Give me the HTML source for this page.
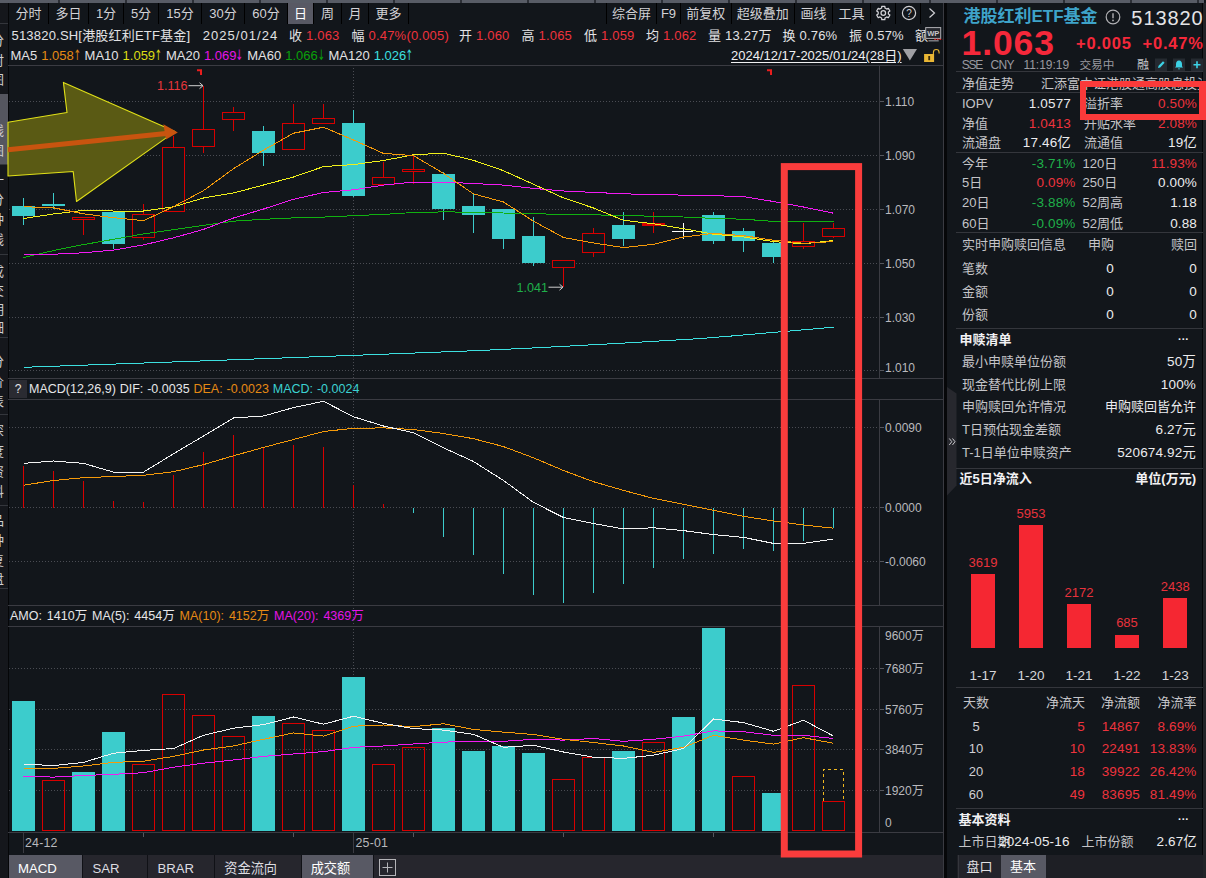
<!DOCTYPE html>
<html lang="zh-CN">
<head>
<meta charset="utf-8">
<title>513820 港股红利ETF基金</title>
<style>
*{box-sizing:border-box;margin:0;padding:0}
html,body{width:1206px;height:878px;overflow:hidden;background:#12161b}
body{font-family:"Liberation Sans","Noto Sans CJK SC",sans-serif;color:#d6d6d8;font-size:13px;position:relative}
.abs{position:absolute;white-space:nowrap}
svg text{font-family:"Liberation Sans","Noto Sans CJK SC",sans-serif}
.chart{position:absolute;left:0;top:0}
/* top strip */
.topstrip{position:absolute;left:0;top:0;width:1204px;height:3px;background:#585c66}
.topstrip i{position:absolute;top:0;width:2px;height:3px;background:#2c2f36}
/* sidebar */
.side{position:absolute;left:0;top:3px;width:9px;height:875px;background:#15171c;border-right:1px solid #050608;overflow:hidden}
.side .act{position:absolute;left:0;top:91px;width:8px;height:70px;background:#55565f}
.side span{position:absolute;left:-9px;width:13px;font-size:13px;line-height:20px;color:#cfcfd2}
.side b{position:absolute;left:0;width:8px;height:1px;background:#34363c}
/* toolbar */
.tb{position:absolute;top:3px;height:21px;line-height:21px;font-size:13px;color:#d2d2d6;text-align:center;border-right:1px solid #000}
.tb.l{border-right:none;border-left:1px solid #000}
.tb.on{background:#585964;color:#fff}
.r2{letter-spacing:.2px;top:26.5px;height:18px;line-height:18px;font-size:13px;color:#e2e2e4}
.r3{word-spacing:.4px;top:46.5px;height:18px;line-height:18px;font-size:13px;color:#e2e2e4}

.ar{font-family:"DejaVu Sans",sans-serif;font-size:14.5px;line-height:10px;display:inline-block;margin:0 -2.2px 0 -3.2px;transform:scaleX(.6);vertical-align:-.7px}
.hd{font-size:12.5px;color:#e6e6e8;height:18px;line-height:18px}
/* bottom tabs */
.btabs{position:absolute;left:9px;top:855px;width:936px;height:23px;background:#26262d}
.bt{position:absolute;top:855px;height:23px;line-height:27px;font-size:13.2px;color:#dcdce0;padding-left:9px;border-right:1px solid #101116}
.bt.on{background:#585964;color:#fff}
/* right panel */
.sep{position:absolute;left:943px;top:3px;width:3.5px;height:875px;background:#060709;border-left:1px solid #3a3b42}
.rp{position:absolute;left:946.5px;top:3px;width:259.5px;height:875px;background:#12161b;border-right:3px solid #222428}
.rp:after{content:'';position:absolute;right:0;top:0;width:1px;height:875px;background:#050608}
.hl{position:absolute;left:956px;width:247px;height:1px;background:#34363c}
.row{position:absolute;font-size:13px;height:18px;line-height:18px;white-space:nowrap;color:#c4c4c8}
.row.w,.w{color:#ececee}
.red,.row.red{color:#ee333d}.grn,.row.grn{color:#1fb04a}
.rt{text-align:right}
.num{font-size:13.5px;letter-spacing:.15px}
.bold{font-weight:bold;color:#f2f2f4}
</style>
</head>
<body>
<div class="topstrip"><i style="left:58px"></i><i style="left:125px"></i><i style="left:192px"></i><i style="left:259px"></i><i style="left:326px"></i><i style="left:393px"></i><i style="left:460px"></i><i style="left:527px"></i><i style="left:594px"></i><i style="left:661px"></i><i style="left:728px"></i><i style="left:795px"></i><i style="left:862px"></i><i style="left:929px"></i><i style="left:996px"></i><i style="left:1063px"></i><i style="left:1130px"></i><i style="left:1197px"></i></div>
<div class="side">
<div class="act"></div>
<b style="top:20px"></b>
<span style="top:28.0px">分</span>
<span style="top:47.5px">时</span>
<span style="top:67.0px">图</span>
<span style="top:98.5px">K</span>
<span style="top:118.0px">线</span>
<span style="top:137.5px">图</span>
<b style="top:161px"></b>
<span style="top:167.0px">一</span>
<span style="top:187.0px">分</span>
<span style="top:207.0px">钟</span>
<span style="top:227.0px">线</span>
<b style="top:251px"></b>
<span style="top:259.0px">成</span>
<span style="top:278.0px">交</span>
<span style="top:297.0px">明</span>
<span style="top:315.0px">细</span>
<b style="top:334px"></b>
<span style="top:349.0px">分</span>
<span style="top:369.0px">价</span>
<span style="top:389.0px">表</span>
<b style="top:411px"></b>
<span style="top:418.0px">深</span>
<span style="top:438.5px">度</span>
<span style="top:458.5px">资</span>
<span style="top:478.5px">料</span>
<b style="top:502px"></b>
<span style="top:508.0px">品</span>
<span style="top:528.0px">种</span>
<span style="top:548.0px">复</span>
<span style="top:566.0px">盘</span>
<b style="top:585px"></b>
</div>
<!-- toolbar tabs -->
<div class="tb abs" style="left:9px;width:40px">分时</div>
<div class="tb abs" style="left:49px;width:40px">多日</div>
<div class="tb abs" style="left:89px;width:35px">1分</div>
<div class="tb abs" style="left:124px;width:35px">5分</div>
<div class="tb abs" style="left:159px;width:43px">15分</div>
<div class="tb abs" style="left:202px;width:43px">30分</div>
<div class="tb abs" style="left:245px;width:43px">60分</div>
<div class="tb abs on" style="left:288px;width:26px">日</div>
<div class="tb abs" style="left:314px;width:28px">周</div>
<div class="tb abs" style="left:342px;width:27px">月</div>
<div class="tb abs" style="left:369px;width:40px">更多</div>

<div class="tb l abs" style="left:606px;width:50px">综合屏</div>
<div class="tb l abs" style="left:656px;width:24px">F9</div>
<div class="tb l abs" style="left:680px;width:50.5px">前复权</div>
<div class="tb l abs" style="left:730.5px;width:63.5px">超级叠加</div>
<div class="tb l abs" style="left:794px;width:38px">画线</div>
<div class="tb l abs" style="left:832px;width:38px">工具</div>
<div class="tb l abs" style="left:870px;width:25px"></div>
<div class="tb l abs" style="left:895px;width:25px"></div>
<div class="tb l abs" style="left:920px;width:24px"></div>
<svg class="abs" style="left:875px;top:5px" width="17" height="16" viewBox="0 0 17 16"><path d="M14.90 10.02 L13.35 12.71 L11.71 11.92 L9.99 12.92 L9.85 14.72 L6.75 14.72 L6.61 12.92 L4.89 11.92 L3.25 12.71 L1.70 10.02 L3.20 8.99 L3.20 7.01 L1.70 5.98 L3.25 3.29 L4.89 4.08 L6.61 3.08 L6.75 1.28 L9.85 1.28 L9.99 3.08 L11.71 4.08 L13.35 3.29 L14.90 5.98 L13.40 7.01 L13.40 8.99Z" fill="none" stroke="#d4d4d8" stroke-width="1.25" stroke-linejoin="round"/><circle cx="8.3" cy="8.0" r="2.3" fill="none" stroke="#d4d4d8" stroke-width="1.25"/></svg>
<svg class="abs" style="left:901px;top:5px" width="16" height="16" viewBox="0 0 16 16"><circle cx="8" cy="8" r="6.6" fill="none" stroke="#d0d0d4" stroke-width="1.2"/><text x="8" y="11.6" font-size="10" text-anchor="middle" fill="#d0d0d4">?</text></svg>
<svg class="abs" style="left:926px;top:5px" width="12" height="16" viewBox="0 0 12 16"><path d="M3.5 3.5 L8.5 8 L3.5 12.5" fill="none" stroke="#d0d0d4" stroke-width="1.2"/></svg>

<!-- row 2 -->
<div class="r2 abs" style="left:11.5px">513820.SH[港股红利ETF基金]</div>
<div class="r2 abs" style="left:202.7px;letter-spacing:1.05px">2025/01/24</div>
<div class="r2 abs" style="left:289px">收 <span class="red">1.063</span></div>
<div class="r2 abs" style="left:351.5px">幅 <span class="red">0.47%(0.005)</span></div>
<div class="r2 abs" style="left:459px">开 <span class="red">1.060</span></div>
<div class="r2 abs" style="left:521.5px">高 <span class="red">1.065</span></div>
<div class="r2 abs" style="left:584px">低 <span class="red">1.059</span></div>
<div class="r2 abs" style="left:646px">均 <span class="red">1.062</span></div>
<div class="r2 abs" style="left:708px">量 13.27万</div>
<div class="r2 abs" style="left:782.5px">换 0.76%</div>
<div class="r2 abs" style="left:849px">振 0.57%</div>
<div class="r2 abs" style="left:915px;width:14px;overflow:hidden">额</div>
<!-- WP icon -->
<svg class="abs" style="left:925px;top:26px" width="18" height="17" viewBox="0 0 18 17"><rect x="0.7" y="1.6" width="15" height="10.8" fill="#24262c" stroke="#b0b0b4" stroke-width="1"/><text x="8.3" y="10" font-size="7.6" font-weight="bold" text-anchor="middle" fill="#c4c4c8">WP</text><path d="M3.5 14.8h10.2" stroke="#8c8c92" stroke-width="1.3"/><path d="M9.3 13.3h8" stroke="#e01e1e" stroke-width="1.2" stroke-dasharray="1.6 1"/></svg>
<!-- row 3 -->
<div class="r3 abs" style="left:10.5px">MA5 <span style="color:#e68a14">1.058<span class="ar">↑</span></span> MA10 <span style="color:#dcdc14">1.059<span class="ar">↑</span></span> MA20 <span style="color:#e614e6">1.069<span class="ar">↓</span></span> MA60 <span style="color:#0aa00a">1.066<span class="ar">↓</span></span> MA120 <span style="color:#3ce0e0">1.026<span class="ar">↑</span></span></div>
<div class="r3 abs" style="left:731px;color:#f0f0f2;text-decoration:underline;text-underline-offset:2px">2024/12/17-2025/01/24(28日)</div>
<svg class="abs" style="left:902px;top:48px" width="16" height="14" viewBox="0 0 16 14"><polygon points="0.8,1 15,1 7.9,12.6" fill="#a0a0a4"/></svg>
<svg class="abs" style="left:922px;top:47px" width="20" height="17" viewBox="0 0 20 17"><path d="M11.4 7.2 V5.4 a2.85 2.85 0 0 1 5.7 0 V6.4" fill="none" stroke="#e6b432" stroke-width="1.1"/><rect x="2.1" y="7" width="10" height="8" fill="#eab735"/><rect x="6.3" y="9" width="1.8" height="4.2" fill="#3a2a08"/></svg>

<!-- panel headers -->
<div class="abs" style="left:9px;top:380px;width:18px;height:18px;background:#2a2b32;color:#e6e6e8;text-align:center;line-height:18px;font-size:12px">?</div>
<div class="hd abs" style="left:29px;top:380px;word-spacing:.4px">MACD(12,26,9) DIF: -0.0035 <span style="color:#e68a14">DEA: -0.0023</span> <span style="color:#3cd2d2">MACD: -0.0024</span></div>
<div class="hd abs" style="left:10px;top:607px;word-spacing:1.4px">AMO: 1410万 MA(5): 4454万 <span style="color:#e68a14">MA(10): 4152万</span> <span style="color:#e614e6">MA(20): 4369万</span></div>

<!-- bottom tabs -->
<div class="btabs"></div>
<div class="bt abs on" style="left:9px;width:74.4px">MACD</div>
<div class="bt abs" style="left:83.4px;width:65px">SAR</div>
<div class="bt abs" style="left:148.4px;width:66.9px">BRAR</div>
<div class="bt abs" style="left:215.3px;width:86.4px">资金流向</div>
<div class="bt abs on" style="left:301.7px;width:72.4px">成交额</div>
<svg class="abs" style="left:379px;top:859px" width="18" height="18" viewBox="0 0 18 18"><rect x="0.5" y="0.5" width="16" height="16" fill="none" stroke="#b4b4b8"/><path d="M8.5 3.5v10M3.5 8.5h10" stroke="#b4b4b8"/></svg>

<svg class="chart" width="948" height="878" viewBox="0 0 948 878" shape-rendering="auto">
<line x1="9" x2="880" y1="101.5" y2="101.5" stroke="#4a4c53" stroke-width="1" stroke-dasharray="1 2" shape-rendering="crispEdges"/>
<line x1="9" x2="880" y1="155.5" y2="155.5" stroke="#4a4c53" stroke-width="1" stroke-dasharray="1 2" shape-rendering="crispEdges"/>
<line x1="9" x2="880" y1="209.5" y2="209.5" stroke="#4a4c53" stroke-width="1" stroke-dasharray="1 2" shape-rendering="crispEdges"/>
<line x1="9" x2="880" y1="263.5" y2="263.5" stroke="#4a4c53" stroke-width="1" stroke-dasharray="1 2" shape-rendering="crispEdges"/>
<line x1="9" x2="880" y1="317.5" y2="317.5" stroke="#4a4c53" stroke-width="1" stroke-dasharray="1 2" shape-rendering="crispEdges"/>
<line x1="9" x2="880" y1="370.5" y2="370.5" stroke="#4a4c53" stroke-width="1" stroke-dasharray="1 2" shape-rendering="crispEdges"/>
<line x1="9" x2="880" y1="427.5" y2="427.5" stroke="#4a4c53" stroke-width="1" stroke-dasharray="1 2" shape-rendering="crispEdges"/>
<line x1="9" x2="880" y1="507.5" y2="507.5" stroke="#4a4c53" stroke-width="1" stroke-dasharray="1 2" shape-rendering="crispEdges"/>
<line x1="9" x2="880" y1="561.5" y2="561.5" stroke="#4a4c53" stroke-width="1" stroke-dasharray="1 2" shape-rendering="crispEdges"/>
<line x1="9" x2="880" y1="668.5" y2="668.5" stroke="#4a4c53" stroke-width="1" stroke-dasharray="1 2" shape-rendering="crispEdges"/>
<line x1="9" x2="880" y1="709.5" y2="709.5" stroke="#4a4c53" stroke-width="1" stroke-dasharray="1 2" shape-rendering="crispEdges"/>
<line x1="9" x2="880" y1="749.5" y2="749.5" stroke="#4a4c53" stroke-width="1" stroke-dasharray="1 2" shape-rendering="crispEdges"/>
<line x1="9" x2="880" y1="790.5" y2="790.5" stroke="#4a4c53" stroke-width="1" stroke-dasharray="1 2" shape-rendering="crispEdges"/>
<line x1="353.5" x2="353.5" y1="68" y2="831" stroke="#4a4c53" stroke-width="1" stroke-dasharray="1 2" shape-rendering="crispEdges"/>
<line x1="8" x2="944" y1="65.5" y2="65.5" stroke="#3a3b42" stroke-width="1"/>
<line x1="8" x2="944" y1="378.5" y2="378.5" stroke="#3a3b42" stroke-width="1"/>
<line x1="8" x2="944" y1="399.5" y2="399.5" stroke="#3a3b42" stroke-width="1"/>
<line x1="8" x2="944" y1="605.5" y2="605.5" stroke="#3a3b42" stroke-width="1"/>
<line x1="8" x2="944" y1="626.5" y2="626.5" stroke="#3a3b42" stroke-width="1"/>
<line x1="8" x2="944" y1="832.5" y2="832.5" stroke="#3a3b42" stroke-width="1"/>
<line x1="879.5" x2="879.5" y1="66" y2="378" stroke="#3a3b42"/>
<line x1="879.5" x2="879.5" y1="399" y2="605" stroke="#3a3b42"/>
<line x1="879.5" x2="879.5" y1="626" y2="832" stroke="#3a3b42"/>
<line x1="880" x2="884" y1="101.5" y2="101.5" stroke="#55575e"/>
<line x1="880" x2="884" y1="155.5" y2="155.5" stroke="#55575e"/>
<line x1="880" x2="884" y1="209.5" y2="209.5" stroke="#55575e"/>
<line x1="880" x2="884" y1="263.5" y2="263.5" stroke="#55575e"/>
<line x1="880" x2="884" y1="317.5" y2="317.5" stroke="#55575e"/>
<line x1="880" x2="884" y1="370.5" y2="370.5" stroke="#55575e"/>
<line x1="880" x2="884" y1="427.5" y2="427.5" stroke="#55575e"/>
<line x1="880" x2="884" y1="507.5" y2="507.5" stroke="#55575e"/>
<line x1="880" x2="884" y1="561.5" y2="561.5" stroke="#55575e"/>
<line x1="880" x2="884" y1="668.5" y2="668.5" stroke="#55575e"/>
<line x1="880" x2="884" y1="709.5" y2="709.5" stroke="#55575e"/>
<line x1="880" x2="884" y1="749.5" y2="749.5" stroke="#55575e"/>
<line x1="880" x2="884" y1="790.5" y2="790.5" stroke="#55575e"/>
<polygon points="8,122.2 67,112.5 63.4,82.4 175,131.6 76.5,201.5 73.2,171.5 8,176" fill="#5a5a14" stroke="#e0e018" stroke-width="1.1" stroke-linejoin="round"/>
<line x1="8" y1="149.8" x2="166" y2="133.6" stroke="#c8540f" stroke-width="5"/>
<polygon points="163.4,124.3 177.8,132.4 166,139.4" fill="#c8540f"/>
<line x1="23.5" x2="23.5" y1="198.0" y2="224.8" stroke="#3ccccc" stroke-width="1" shape-rendering="crispEdges"/>
<rect x="12.0" y="206.0" width="23" height="10.0" fill="#3ccccc" shape-rendering="crispEdges"/>
<line x1="53.5" x2="53.5" y1="193.0" y2="209.0" stroke="#3ccccc" stroke-width="1" shape-rendering="crispEdges"/>
<rect x="42.0" y="204.0" width="23" height="2.0" fill="#3ccccc" shape-rendering="crispEdges"/>
<line x1="83.5" x2="83.5" y1="217.0" y2="217.0" stroke="#d80000" stroke-width="1" shape-rendering="crispEdges"/>
<line x1="83.5" x2="83.5" y1="219.3" y2="235.4" stroke="#d80000" stroke-width="1" shape-rendering="crispEdges"/>
<rect x="72.5" y="217.5" width="22" height="2.0" fill="#12161b" stroke="#d80000" stroke-width="1" shape-rendering="crispEdges"/>
<line x1="113.5" x2="113.5" y1="212.0" y2="248.5" stroke="#3ccccc" stroke-width="1" shape-rendering="crispEdges"/>
<rect x="102.0" y="212.0" width="23" height="32.0" fill="#3ccccc" shape-rendering="crispEdges"/>
<line x1="143.5" x2="143.5" y1="204.0" y2="213.8" stroke="#d80000" stroke-width="1" shape-rendering="crispEdges"/>
<line x1="143.5" x2="143.5" y1="237.0" y2="240.3" stroke="#d80000" stroke-width="1" shape-rendering="crispEdges"/>
<rect x="132.5" y="214.5" width="22" height="23.0" fill="#12161b" stroke="#d80000" stroke-width="1" shape-rendering="crispEdges"/>
<line x1="173.5" x2="173.5" y1="136.0" y2="147.4" stroke="#d80000" stroke-width="1" shape-rendering="crispEdges"/>
<line x1="173.5" x2="173.5" y1="211.0" y2="211.0" stroke="#d80000" stroke-width="1" shape-rendering="crispEdges"/>
<rect x="162.5" y="147.5" width="22" height="64.0" fill="#12161b" stroke="#d80000" stroke-width="1" shape-rendering="crispEdges"/>
<line x1="203.5" x2="203.5" y1="85.7" y2="129.4" stroke="#d80000" stroke-width="1" shape-rendering="crispEdges"/>
<line x1="203.5" x2="203.5" y1="146.6" y2="152.9" stroke="#d80000" stroke-width="1" shape-rendering="crispEdges"/>
<rect x="192.5" y="129.5" width="22" height="17.0" fill="#12161b" stroke="#d80000" stroke-width="1" shape-rendering="crispEdges"/>
<line x1="233.5" x2="233.5" y1="107.0" y2="112.2" stroke="#d80000" stroke-width="1" shape-rendering="crispEdges"/>
<line x1="233.5" x2="233.5" y1="119.6" y2="130.5" stroke="#d80000" stroke-width="1" shape-rendering="crispEdges"/>
<rect x="222.5" y="112.5" width="22" height="7.0" fill="#12161b" stroke="#d80000" stroke-width="1" shape-rendering="crispEdges"/>
<line x1="263.5" x2="263.5" y1="125.6" y2="166.0" stroke="#3ccccc" stroke-width="1" shape-rendering="crispEdges"/>
<rect x="252.0" y="131.0" width="23" height="22.0" fill="#3ccccc" shape-rendering="crispEdges"/>
<line x1="293.5" x2="293.5" y1="103.7" y2="123.1" stroke="#d80000" stroke-width="1" shape-rendering="crispEdges"/>
<line x1="293.5" x2="293.5" y1="149.6" y2="149.6" stroke="#d80000" stroke-width="1" shape-rendering="crispEdges"/>
<rect x="282.5" y="123.5" width="22" height="26.0" fill="#12161b" stroke="#d80000" stroke-width="1" shape-rendering="crispEdges"/>
<line x1="323.5" x2="323.5" y1="103.7" y2="117.9" stroke="#d80000" stroke-width="1" shape-rendering="crispEdges"/>
<line x1="323.5" x2="323.5" y1="122.8" y2="122.8" stroke="#d80000" stroke-width="1" shape-rendering="crispEdges"/>
<rect x="312.5" y="118.5" width="22" height="5.0" fill="#12161b" stroke="#d80000" stroke-width="1" shape-rendering="crispEdges"/>
<line x1="353.5" x2="353.5" y1="110.0" y2="197.4" stroke="#3ccccc" stroke-width="1" shape-rendering="crispEdges"/>
<rect x="342.0" y="123.0" width="23" height="73.0" fill="#3ccccc" shape-rendering="crispEdges"/>
<line x1="383.5" x2="383.5" y1="162.2" y2="177.2" stroke="#d80000" stroke-width="1" shape-rendering="crispEdges"/>
<line x1="383.5" x2="383.5" y1="184.6" y2="184.6" stroke="#d80000" stroke-width="1" shape-rendering="crispEdges"/>
<rect x="372.5" y="177.5" width="22" height="7.0" fill="#12161b" stroke="#d80000" stroke-width="1" shape-rendering="crispEdges"/>
<line x1="413.5" x2="413.5" y1="154.3" y2="169.3" stroke="#d80000" stroke-width="1" shape-rendering="crispEdges"/>
<line x1="413.5" x2="413.5" y1="171.5" y2="184.3" stroke="#d80000" stroke-width="1" shape-rendering="crispEdges"/>
<rect x="402.5" y="169.5" width="22" height="2.0" fill="#12161b" stroke="#d80000" stroke-width="1" shape-rendering="crispEdges"/>
<line x1="443.5" x2="443.5" y1="172.0" y2="219.8" stroke="#3ccccc" stroke-width="1" shape-rendering="crispEdges"/>
<rect x="432.0" y="174.0" width="23" height="35.0" fill="#3ccccc" shape-rendering="crispEdges"/>
<line x1="473.5" x2="473.5" y1="193.3" y2="233.0" stroke="#3ccccc" stroke-width="1" shape-rendering="crispEdges"/>
<rect x="462.0" y="206.0" width="23" height="9.0" fill="#3ccccc" shape-rendering="crispEdges"/>
<line x1="503.5" x2="503.5" y1="208.9" y2="248.5" stroke="#3ccccc" stroke-width="1" shape-rendering="crispEdges"/>
<rect x="492.0" y="209.0" width="23" height="30.0" fill="#3ccccc" shape-rendering="crispEdges"/>
<line x1="533.5" x2="533.5" y1="217.1" y2="265.5" stroke="#3ccccc" stroke-width="1" shape-rendering="crispEdges"/>
<rect x="522.0" y="236.0" width="23" height="27.0" fill="#3ccccc" shape-rendering="crispEdges"/>
<line x1="563.5" x2="563.5" y1="260.2" y2="260.2" stroke="#d80000" stroke-width="1" shape-rendering="crispEdges"/>
<line x1="563.5" x2="563.5" y1="267.5" y2="287.2" stroke="#d80000" stroke-width="1" shape-rendering="crispEdges"/>
<rect x="552.5" y="260.5" width="22" height="7.0" fill="#12161b" stroke="#d80000" stroke-width="1" shape-rendering="crispEdges"/>
<line x1="593.5" x2="593.5" y1="228.2" y2="233.1" stroke="#d80000" stroke-width="1" shape-rendering="crispEdges"/>
<line x1="593.5" x2="593.5" y1="251.7" y2="257.4" stroke="#d80000" stroke-width="1" shape-rendering="crispEdges"/>
<rect x="582.5" y="233.5" width="22" height="19.0" fill="#12161b" stroke="#d80000" stroke-width="1" shape-rendering="crispEdges"/>
<line x1="623.5" x2="623.5" y1="212.3" y2="246.2" stroke="#3ccccc" stroke-width="1" shape-rendering="crispEdges"/>
<rect x="612.0" y="225.0" width="23" height="14.0" fill="#3ccccc" shape-rendering="crispEdges"/>
<line x1="653.5" x2="653.5" y1="212.3" y2="223.3" stroke="#d80000" stroke-width="1" shape-rendering="crispEdges"/>
<line x1="653.5" x2="653.5" y1="225.0" y2="232.6" stroke="#d80000" stroke-width="1" shape-rendering="crispEdges"/>
<rect x="642.5" y="223.5" width="22" height="2.0" fill="#d80000" stroke="#d80000" stroke-width="1" shape-rendering="crispEdges"/>
<line x1="683.5" x2="683.5" y1="223.3" y2="238.9" stroke="#fff" stroke-width="1" shape-rendering="crispEdges"/>
<line x1="672.0" x2="693.0" y1="231.5" y2="231.5" stroke="#fff" stroke-width="1" shape-rendering="crispEdges"/>
<line x1="713.5" x2="713.5" y1="212.0" y2="243.8" stroke="#3ccccc" stroke-width="1" shape-rendering="crispEdges"/>
<rect x="702.0" y="215.0" width="23" height="26.0" fill="#3ccccc" shape-rendering="crispEdges"/>
<line x1="743.5" x2="743.5" y1="228.0" y2="252.0" stroke="#3ccccc" stroke-width="1" shape-rendering="crispEdges"/>
<rect x="732.0" y="231.0" width="23" height="10.0" fill="#3ccccc" shape-rendering="crispEdges"/>
<line x1="773.5" x2="773.5" y1="240.5" y2="263.0" stroke="#3ccccc" stroke-width="1" shape-rendering="crispEdges"/>
<rect x="762.0" y="243.0" width="23" height="14.0" fill="#3ccccc" shape-rendering="crispEdges"/>
<line x1="803.5" x2="803.5" y1="222.8" y2="241.1" stroke="#d80000" stroke-width="1" shape-rendering="crispEdges"/>
<line x1="803.5" x2="803.5" y1="246.0" y2="248.5" stroke="#d80000" stroke-width="1" shape-rendering="crispEdges"/>
<rect x="792.5" y="241.5" width="22" height="5.0" fill="#12161b" stroke="#d80000" stroke-width="1" shape-rendering="crispEdges"/>
<line x1="833.5" x2="833.5" y1="222.8" y2="228.0" stroke="#d80000" stroke-width="1" shape-rendering="crispEdges"/>
<line x1="833.5" x2="833.5" y1="235.6" y2="238.4" stroke="#d80000" stroke-width="1" shape-rendering="crispEdges"/>
<rect x="822.5" y="228.5" width="22" height="8.0" fill="#12161b" stroke="#d80000" stroke-width="1" shape-rendering="crispEdges"/>
<polyline points="23.5,257.5 53.5,250.6 83.5,244.6 113.5,239.3 143.5,233.9 173.5,229.7 203.5,225.3 233.5,221.2 263.5,219.3 293.5,217.9 323.5,217.1 353.5,215.7 383.5,214.4 413.5,212.5 443.5,211.9 473.5,212.2 503.5,213.0 533.5,213.8 563.5,214.3 593.5,214.8 623.5,215.6 653.5,216.2 683.5,217.0 713.5,218.4 743.5,219.2 773.5,221.4 803.5,221.4 833.5,221.4" fill="none" stroke="#10b010" stroke-width="1" shape-rendering="crispEdges"/>
<polyline points="23.5,254.2 53.5,254.2 83.5,252.8 113.5,250.1 143.5,244.9 173.5,237.8 203.5,229.4 233.5,218.0 263.5,209.0 293.5,199.3 323.5,192.5 353.5,189.8 383.5,185.1 413.5,182.1 443.5,182.1 473.5,183.5 503.5,185.1 533.5,188.4 563.5,191.0 593.5,192.4 623.5,193.8 653.5,194.6 683.5,195.1 713.5,195.7 743.5,196.6 773.5,201.5 803.5,207.0 833.5,213.2" fill="none" stroke="#f21af2" stroke-width="1" shape-rendering="crispEdges"/>
<polyline points="23.5,218.5 53.5,214.0 83.5,210.3 113.5,211.0 143.5,211.0 173.5,206.8 203.5,198.0 233.5,193.0 263.5,185.0 293.5,177.0 323.5,166.6 353.5,164.6 383.5,160.5 413.5,154.8 443.5,153.2 473.5,160.3 503.5,170.7 533.5,184.3 563.5,197.9 593.5,208.0 623.5,220.3 653.5,223.8 683.5,228.7 713.5,234.2 743.5,237.0 773.5,241.6 803.5,243.8 833.5,240.5" fill="none" stroke="#f0f01a" stroke-width="1" shape-rendering="crispEdges"/>
<polyline points="23.5,206.7 53.5,207.8 83.5,213.8 113.5,217.7 143.5,220.7 173.5,206.7 203.5,190.6 233.5,168.7 263.5,150.2 293.5,133.2 323.5,127.2 353.5,140.0 383.5,153.4 413.5,155.6 443.5,173.4 473.5,193.9 503.5,202.0 533.5,221.2 563.5,237.5 593.5,243.0 623.5,247.6 653.5,244.3 683.5,237.0 713.5,233.4 743.5,235.6 773.5,240.3 803.5,243.3 833.5,241.6" fill="none" stroke="#f59a0a" stroke-width="1" shape-rendering="crispEdges"/>
<polyline points="23.5,367.3 200.0,361.0 350.0,355.5 480.0,350.5 540.0,347.6 620.0,343.3 700.0,338.6 740.0,335.3 833.5,327.2" fill="none" stroke="#3ce0e0" stroke-width="1" shape-rendering="crispEdges"/>
<text x="157" y="90.2" font-size="12.6" fill="#e8363c">1.116</text>
<path d="M188.5 85.7 H203 M199.5 82.7 L203 85.7 L199.5 88.7" stroke="#cfcfcf" fill="none" stroke-width="1"/>
<path d="M197 70.3 H201 V75" stroke="#e81e1e" fill="none" stroke-width="2"/>
<path d="M767 70.3 H771 V75" stroke="#e81e1e" fill="none" stroke-width="2"/>
<text x="516.5" y="291.7" font-size="12.6" fill="#1fb04a">1.041</text>
<path d="M548.5 287.2 H563 M559.5 284.2 L563 287.2 L559.5 290.2" stroke="#cfcfcf" fill="none" stroke-width="1"/>
<text x="885" y="105.8" font-size="12" fill="#b9b9bd">1.110</text>
<text x="885" y="159.8" font-size="12" fill="#b9b9bd">1.090</text>
<text x="885" y="213.8" font-size="12" fill="#b9b9bd">1.070</text>
<text x="885" y="267.8" font-size="12" fill="#b9b9bd">1.050</text>
<text x="885" y="321.8" font-size="12" fill="#b9b9bd">1.030</text>
<text x="885" y="372.3" font-size="12" fill="#b9b9bd">1.010</text>
<text x="885" y="431.8" font-size="12" fill="#b9b9bd">0.0090</text>
<text x="885" y="511.8" font-size="12" fill="#b9b9bd">0.0000</text>
<text x="885" y="565.8" font-size="12" fill="#b9b9bd">-0.0060</text>
<text x="885" y="639.8" font-size="12" fill="#b9b9bd">9600万</text>
<text x="885" y="672.8" font-size="12" fill="#b9b9bd">7680万</text>
<text x="885" y="713.8" font-size="12" fill="#b9b9bd">5760万</text>
<text x="885" y="753.8" font-size="12" fill="#b9b9bd">3840万</text>
<text x="885" y="794.8" font-size="12" fill="#b9b9bd">1920万</text>
<text x="885" y="827.3" font-size="12" fill="#b9b9bd">0</text>
<line x1="23.5" x2="23.5" y1="507.5" y2="465.7" stroke="#d80000" stroke-width="1" shape-rendering="crispEdges"/>
<line x1="53.5" x2="53.5" y1="507.5" y2="470.9" stroke="#d80000" stroke-width="1" shape-rendering="crispEdges"/>
<line x1="83.5" x2="83.5" y1="507.5" y2="480.9" stroke="#d80000" stroke-width="1" shape-rendering="crispEdges"/>
<line x1="113.5" x2="113.5" y1="507.5" y2="501.2" stroke="#d80000" stroke-width="1" shape-rendering="crispEdges"/>
<line x1="143.5" x2="143.5" y1="507.5" y2="502.4" stroke="#d80000" stroke-width="1" shape-rendering="crispEdges"/>
<line x1="173.5" x2="173.5" y1="507.5" y2="474.5" stroke="#d80000" stroke-width="1" shape-rendering="crispEdges"/>
<line x1="203.5" x2="203.5" y1="507.5" y2="451.8" stroke="#d80000" stroke-width="1" shape-rendering="crispEdges"/>
<line x1="233.5" x2="233.5" y1="507.5" y2="434.7" stroke="#d80000" stroke-width="1" shape-rendering="crispEdges"/>
<line x1="263.5" x2="263.5" y1="507.5" y2="446.6" stroke="#d80000" stroke-width="1" shape-rendering="crispEdges"/>
<line x1="293.5" x2="293.5" y1="507.5" y2="444.7" stroke="#d80000" stroke-width="1" shape-rendering="crispEdges"/>
<line x1="323.5" x2="323.5" y1="507.5" y2="446.6" stroke="#d80000" stroke-width="1" shape-rendering="crispEdges"/>
<line x1="353.5" x2="353.5" y1="507.5" y2="484.5" stroke="#d80000" stroke-width="1" shape-rendering="crispEdges"/>
<line x1="383.5" x2="383.5" y1="507.5" y2="503.6" stroke="#d80000" stroke-width="1" shape-rendering="crispEdges"/>
<line x1="413.5" x2="413.5" y1="507.5" y2="512.7" stroke="#3ccccc" stroke-width="1" shape-rendering="crispEdges"/>
<line x1="443.5" x2="443.5" y1="507.5" y2="537.4" stroke="#3ccccc" stroke-width="1" shape-rendering="crispEdges"/>
<line x1="473.5" x2="473.5" y1="507.5" y2="554.9" stroke="#3ccccc" stroke-width="1" shape-rendering="crispEdges"/>
<line x1="503.5" x2="503.5" y1="507.5" y2="574.0" stroke="#3ccccc" stroke-width="1" shape-rendering="crispEdges"/>
<line x1="533.5" x2="533.5" y1="507.5" y2="595.1" stroke="#3ccccc" stroke-width="1" shape-rendering="crispEdges"/>
<line x1="563.5" x2="563.5" y1="507.5" y2="602.7" stroke="#3ccccc" stroke-width="1" shape-rendering="crispEdges"/>
<line x1="593.5" x2="593.5" y1="507.5" y2="592.7" stroke="#3ccccc" stroke-width="1" shape-rendering="crispEdges"/>
<line x1="623.5" x2="623.5" y1="507.5" y2="583.6" stroke="#3ccccc" stroke-width="1" shape-rendering="crispEdges"/>
<line x1="653.5" x2="653.5" y1="507.5" y2="567.6" stroke="#3ccccc" stroke-width="1" shape-rendering="crispEdges"/>
<line x1="683.5" x2="683.5" y1="507.5" y2="558.9" stroke="#3ccccc" stroke-width="1" shape-rendering="crispEdges"/>
<line x1="713.5" x2="713.5" y1="507.5" y2="554.1" stroke="#3ccccc" stroke-width="1" shape-rendering="crispEdges"/>
<line x1="743.5" x2="743.5" y1="507.5" y2="549.3" stroke="#3ccccc" stroke-width="1" shape-rendering="crispEdges"/>
<line x1="773.5" x2="773.5" y1="507.5" y2="550.5" stroke="#3ccccc" stroke-width="1" shape-rendering="crispEdges"/>
<line x1="803.5" x2="803.5" y1="507.5" y2="541.4" stroke="#3ccccc" stroke-width="1" shape-rendering="crispEdges"/>
<line x1="833.5" x2="833.5" y1="507.5" y2="528.2" stroke="#3ccccc" stroke-width="1" shape-rendering="crispEdges"/>
<polyline points="23.5,485.2 53.5,480.5 83.5,477.7 113.5,476.5 143.5,475.3 173.5,471.7 203.5,464.6 233.5,455.8 263.5,447.4 293.5,439.5 323.5,431.5 353.5,428.3 383.5,427.9 413.5,429.5 443.5,433.5 473.5,438.7 503.5,446.6 533.5,457.8 563.5,470.5 593.5,481.7 623.5,490.4 653.5,498.4 683.5,504.4 713.5,510.3 743.5,516.3 773.5,521.0 803.5,525.0 833.5,528.2" fill="none" stroke="#f59a0a" stroke-width="1" shape-rendering="crispEdges"/>
<polyline points="23.5,463.4 53.5,461.0 83.5,463.4 113.5,472.1 143.5,472.1 173.5,453.8 203.5,436.0 233.5,418.0 263.5,416.0 293.5,407.6 323.5,401.3 353.5,416.8 383.5,426.0 413.5,432.7 443.5,447.8 473.5,461.5 503.5,480.5 533.5,502.4 563.5,517.5 593.5,523.5 623.5,529.0 653.5,527.8 683.5,530.6 713.5,534.6 743.5,537.4 773.5,543.4 803.5,543.4 833.5,539.0" fill="none" stroke="#f2f2f2" stroke-width="1" shape-rendering="crispEdges"/>
<rect x="12.0" y="701.0" width="23" height="130.0" fill="#3ccccc" shape-rendering="crispEdges"/>
<rect x="42.5" y="780.5" width="22" height="50.0" fill="none" stroke="#d80000" stroke-width="1" shape-rendering="crispEdges"/>
<rect x="72.0" y="772.0" width="23" height="59.0" fill="#3ccccc" shape-rendering="crispEdges"/>
<rect x="102.0" y="732.0" width="23" height="99.0" fill="#3ccccc" shape-rendering="crispEdges"/>
<rect x="132.5" y="764.5" width="22" height="66.0" fill="none" stroke="#d80000" stroke-width="1" shape-rendering="crispEdges"/>
<rect x="162.5" y="694.5" width="22" height="136.0" fill="none" stroke="#d80000" stroke-width="1" shape-rendering="crispEdges"/>
<rect x="192.5" y="715.5" width="22" height="115.0" fill="none" stroke="#d80000" stroke-width="1" shape-rendering="crispEdges"/>
<rect x="222.5" y="736.5" width="22" height="94.0" fill="none" stroke="#d80000" stroke-width="1" shape-rendering="crispEdges"/>
<rect x="252.0" y="716.0" width="23" height="115.0" fill="#3ccccc" shape-rendering="crispEdges"/>
<rect x="282.5" y="723.5" width="22" height="107.0" fill="none" stroke="#d80000" stroke-width="1" shape-rendering="crispEdges"/>
<rect x="312.5" y="730.5" width="22" height="100.0" fill="none" stroke="#d80000" stroke-width="1" shape-rendering="crispEdges"/>
<rect x="342.0" y="677.0" width="23" height="154.0" fill="#3ccccc" shape-rendering="crispEdges"/>
<rect x="372.5" y="764.5" width="22" height="66.0" fill="none" stroke="#d80000" stroke-width="1" shape-rendering="crispEdges"/>
<rect x="402.5" y="747.5" width="22" height="83.0" fill="none" stroke="#d80000" stroke-width="1" shape-rendering="crispEdges"/>
<rect x="432.0" y="728.0" width="23" height="103.0" fill="#3ccccc" shape-rendering="crispEdges"/>
<rect x="462.0" y="751.0" width="23" height="80.0" fill="#3ccccc" shape-rendering="crispEdges"/>
<rect x="492.0" y="746.0" width="23" height="85.0" fill="#3ccccc" shape-rendering="crispEdges"/>
<rect x="522.0" y="753.0" width="23" height="78.0" fill="#3ccccc" shape-rendering="crispEdges"/>
<rect x="552.5" y="779.5" width="22" height="51.0" fill="none" stroke="#d80000" stroke-width="1" shape-rendering="crispEdges"/>
<rect x="582.5" y="757.5" width="22" height="73.0" fill="none" stroke="#d80000" stroke-width="1" shape-rendering="crispEdges"/>
<rect x="612.0" y="751.0" width="23" height="80.0" fill="#3ccccc" shape-rendering="crispEdges"/>
<rect x="642.5" y="742.5" width="22" height="88.0" fill="none" stroke="#d80000" stroke-width="1" shape-rendering="crispEdges"/>
<rect x="672.0" y="717.0" width="23" height="114.0" fill="#3ccccc" shape-rendering="crispEdges"/>
<rect x="702.0" y="628.0" width="23" height="203.0" fill="#3ccccc" shape-rendering="crispEdges"/>
<rect x="732.5" y="776.5" width="22" height="54.0" fill="none" stroke="#d80000" stroke-width="1" shape-rendering="crispEdges"/>
<rect x="762.0" y="793.0" width="23" height="38.0" fill="#3ccccc" shape-rendering="crispEdges"/>
<rect x="792.5" y="685.5" width="22" height="145.0" fill="none" stroke="#d80000" stroke-width="1" shape-rendering="crispEdges"/>
<rect x="822.5" y="801.5" width="22" height="29.0" fill="none" stroke="#d80000" stroke-width="1" shape-rendering="crispEdges"/>
<path d="M823.5 801 V769.5 H843.5 V801" fill="none" stroke="#f0b81e" stroke-width="1" stroke-dasharray="3 3" shape-rendering="crispEdges"/>
<polyline points="23.5,776.3 53.5,777.1 83.5,775.5 113.5,774.3 143.5,772.7 173.5,767.2 203.5,763.2 233.5,760.0 263.5,756.4 293.5,754.0 323.5,751.6 353.5,747.3 383.5,746.0 413.5,744.0 443.5,742.1 473.5,741.5 503.5,741.3 533.5,739.3 563.5,740.1 593.5,738.5 623.5,741.3 653.5,739.3 683.5,736.1 713.5,730.9 743.5,731.7 773.5,735.3 803.5,735.3 833.5,738.5" fill="none" stroke="#f21af2" stroke-width="1" shape-rendering="crispEdges"/>
<polyline points="23.5,768.4 53.5,768.4 83.5,766.0 113.5,762.4 143.5,761.2 173.5,756.4 203.5,750.0 233.5,746.0 263.5,739.3 293.5,732.9 323.5,736.1 353.5,726.2 383.5,725.0 413.5,726.6 443.5,723.8 473.5,729.4 503.5,732.1 533.5,734.5 563.5,739.3 593.5,742.5 623.5,746.0 653.5,752.4 683.5,747.3 713.5,735.3 743.5,740.1 773.5,744.1 803.5,737.7 833.5,743.3" fill="none" stroke="#f59a0a" stroke-width="1" shape-rendering="crispEdges"/>
<polyline points="23.5,764.0 53.5,765.6 83.5,762.4 113.5,753.2 143.5,750.4 173.5,748.5 203.5,735.3 233.5,728.2 263.5,724.6 293.5,717.0 323.5,724.2 353.5,716.2 383.5,723.4 413.5,728.6 443.5,730.1 473.5,734.3 503.5,747.3 533.5,745.3 563.5,752.0 593.5,757.2 623.5,758.4 653.5,755.2 683.5,748.5 713.5,719.0 743.5,722.6 773.5,731.3 803.5,720.2 833.5,736.1" fill="none" stroke="#f2f2f2" stroke-width="1" shape-rendering="crispEdges"/>
<line x1="23.5" x2="23.5" y1="832" y2="853" stroke="#3a3b42"/>
<line x1="353.5" x2="353.5" y1="832" y2="853" stroke="#3a3b42"/>
<line x1="143.5" x2="143.5" y1="833" y2="837" stroke="#55575e"/>
<line x1="293.5" x2="293.5" y1="833" y2="837" stroke="#55575e"/>
<line x1="413.5" x2="413.5" y1="833" y2="837" stroke="#55575e"/>
<line x1="563.5" x2="563.5" y1="833" y2="837" stroke="#55575e"/>
<line x1="713.5" x2="713.5" y1="833" y2="837" stroke="#55575e"/>
<text x="25" y="847" font-size="12.4" letter-spacing=".2" fill="#b9b9bd">24-12</text>
<text x="355.5" y="847" font-size="12.4" letter-spacing=".2" fill="#b9b9bd">25-01</text>
<rect x="784.3" y="166.6" width="74.3" height="687.4" fill="none" stroke="#fa3c3c" stroke-width="7"/>
</svg>
<div class="sep"></div><div class="rp"></div>
<svg class="abs" style="left:946.5px;top:387.3px" width="10" height="109" viewBox="0 0 10 109"><polygon points="0,0 9.5,6.5 9.5,98.5 0,108.5" fill="#27282e"/><path d="M2.3 51.5 L4.8 54.7 L2.3 57.9 M5.5 51.5 L8 54.7 L5.5 57.9" fill="none" stroke="#c8c8cc" stroke-width="1"/></svg>
<div class="abs" style="left:963.5px;top:6px;font-size:17px;line-height:22px;font-weight:bold;color:#3ea3c9">港股红利ETF基金</div>
<svg class="abs" style="left:1105px;top:9px" width="16" height="16" viewBox="0 0 16 16"><circle cx="8" cy="8" r="6.8" fill="none" stroke="#b0b0b4" stroke-width="1.2"/><path d="M8 4.2v5" stroke="#b0b0b4" stroke-width="1.4"/><circle cx="8" cy="11.4" r=".9" fill="#b0b0b4"/></svg>
<div class="abs" id="code" style="right:2.5px;top:5px;font-size:20px;line-height:26px;color:#e4e4e6;letter-spacing:.9px">513820</div>
<div class="abs" id="big" style="left:961.5px;top:23px;font-size:35.5px;line-height:40px;font-weight:bold;color:#f5283a;letter-spacing:.9px">1.063</div>
<div class="abs" id="chg1" style="left:1076px;top:32.5px;font-size:16.5px;line-height:20px;font-weight:bold;color:#f5283a;letter-spacing:.8px">+0.005</div>
<div class="abs" id="chg2" style="left:1142.5px;top:32.5px;font-size:16.5px;line-height:20px;font-weight:bold;color:#f5283a;letter-spacing:.8px">+0.47%</div>
<div class="abs" style="left:961.8px;top:57px;font-size:12px;line-height:16px;color:#9a9aa0;letter-spacing:-1.3px">SSE</div>
<div class="abs" style="left:990.5px;top:57px;font-size:12px;line-height:16px;color:#9a9aa0;letter-spacing:-.7px">CNY</div>
<div class="abs" style="left:1023.4px;top:57px;font-size:12px;line-height:16px;color:#9a9aa0">11:19:19</div>
<div class="abs" style="left:1079.4px;top:57px;font-size:11.7px;line-height:16px;color:#9a9aa0">交易中</div>
<div class="abs" style="left:1137px;top:57px;font-size:12px;line-height:16px;color:#c8c8cc">融</div>
<svg class="abs" style="left:1155px;top:58px" width="48" height="14" viewBox="0 0 48 14"><rect x="0" y="0.5" width="12" height="12.5" fill="#252a31"/><path d="M3 10 L3.6 7.8 L8 3.2 L9.6 4.8 L5.2 9.4 Z" fill="#3cd2e6"/><rect x="18" y="0.5" width="12" height="12.5" fill="#252a31"/><path d="M24 2.6 c-2.2 0 -3 1.8 -3 3.6 v2 l-1 1.4 h8 l-1 -1.4 v-2 c0 -1.8 -.8 -3.6 -3 -3.6z M23 10.4 h2 v.8 h-2z" fill="#3cd2e6"/><rect x="36" y="0.5" width="12" height="12.5" fill="#252a31"/><path d="M42 3.2v7M38.5 6.7h7" stroke="#3cd2e6" stroke-width="1.6"/></svg>
<div class="hl" style="top:71.0px"></div>
<div class="row " style="left:962.0px;top:75.0px">净值走势</div>
<div class="row" style="left:1041px;top:75px;width:161px;overflow:hidden">汇添富中证港股通高股息投资</div>
<div class="hl" style="top:92.0px"></div>
<div class="row " style="left:962.0px;top:95.0px">IOPV</div>
<div class="row rt w num" style="right:135.0px;top:95.0px">1.0577</div>
<div class="row " style="left:1084.0px;top:95.0px">溢折率</div>
<div class="row rt red num" style="right:9.0px;top:95.0px">0.50%</div>
<div class="row " style="left:962.0px;top:114.8px">净值</div>
<div class="row rt red num" style="right:135.0px;top:114.8px">1.0413</div>
<div class="row " style="left:1084.0px;top:114.8px">升贴水率</div>
<div class="row rt red num" style="right:9.0px;top:114.8px">2.08%</div>
<div class="row " style="left:962.0px;top:134.0px">流通盘</div>
<div class="row rt w num" style="right:135.0px;top:134.0px">17.46亿</div>
<div class="row " style="left:1084.0px;top:134.0px">流通值</div>
<div class="row rt w num" style="right:9.0px;top:134.0px">19亿</div>
<div class="hl" style="top:152.0px"></div>
<div class="row " style="left:962.0px;top:154.5px">今年</div>
<div class="row rt grn num" style="right:130.5px;top:154.5px">-3.71%</div>
<div class="row " style="left:1082.5px;top:154.5px">120日</div>
<div class="row rt red num" style="right:9.0px;top:154.5px">11.93%</div>
<div class="row " style="left:962.0px;top:174.0px">5日</div>
<div class="row rt red num" style="right:130.5px;top:174.0px">0.09%</div>
<div class="row " style="left:1082.5px;top:174.0px">250日</div>
<div class="row rt w num" style="right:9.0px;top:174.0px">0.00%</div>
<div class="row " style="left:962.0px;top:194.3px">20日</div>
<div class="row rt grn num" style="right:130.5px;top:194.3px">-3.88%</div>
<div class="row " style="left:1082.5px;top:194.3px">52周高</div>
<div class="row rt w num" style="right:9.0px;top:194.3px">1.18</div>
<div class="row " style="left:962.0px;top:214.7px">60日</div>
<div class="row rt grn num" style="right:130.5px;top:214.7px">-0.09%</div>
<div class="row " style="left:1082.5px;top:214.7px">52周低</div>
<div class="row rt w num" style="right:9.0px;top:214.7px">0.88</div>
<div class="hl" style="top:232.0px"></div>
<div class="row " style="left:962.0px;top:236.0px">实时申购赎回信息</div>
<div class="row rt " style="right:92.0px;top:236.0px">申购</div>
<div class="row rt " style="right:9.0px;top:236.0px">赎回</div>
<div class="row " style="left:962.0px;top:259.5px">笔数</div>
<div class="row rt w num" style="right:92.0px;top:259.5px">0</div>
<div class="row rt w num" style="right:9.0px;top:259.5px">0</div>
<div class="row " style="left:962.0px;top:282.5px">金额</div>
<div class="row rt w num" style="right:92.0px;top:282.5px">0</div>
<div class="row rt w num" style="right:9.0px;top:282.5px">0</div>
<div class="row " style="left:962.0px;top:305.5px">份额</div>
<div class="row rt w num" style="right:92.0px;top:305.5px">0</div>
<div class="row rt w num" style="right:9.0px;top:305.5px">0</div>
<div class="hl" style="top:328.0px"></div>
<div class="row bold" style="left:959.5px;top:330.5px">申赎清单</div>
<div class="row bold" style="left:1178px;top:329.5px;font-size:11px">···</div>
<div class="row " style="left:962.0px;top:352.5px">最小申赎单位份额</div>
<div class="row rt w num" style="right:10.0px;top:352.5px">50万</div>
<div class="row " style="left:962.0px;top:375.5px">现金替代比例上限</div>
<div class="row rt w num" style="right:10.0px;top:375.5px">100%</div>
<div class="row " style="left:962.0px;top:398.0px">申购赎回允许情况</div>
<div class="row rt w" style="right:10.0px;top:398.0px">申购赎回皆允许</div>
<div class="row " style="left:962.0px;top:421.0px">T日预估现金差额</div>
<div class="row rt w num" style="right:10.0px;top:421.0px">6.27元</div>
<div class="row " style="left:962.0px;top:443.8px">T-1日单位申赎资产</div>
<div class="row rt w num" style="right:10.0px;top:443.8px">520674.92元</div>
<div class="hl" style="top:468.0px"></div>
<div class="row bold" style="left:959.5px;top:470.3px">近5日净流入</div>
<div class="row rt bold" style="right:10.0px;top:470.3px">单位(万元)</div>
<div class="abs" style="left:971.0px;top:574.0px;width:24px;height:74.2px;background:#f52732"></div>
<div class="abs" style="left:953.0px;top:554.5px;width:60px;text-align:center;font-size:13px;line-height:16px;color:#e8323c">3619</div>
<div class="abs" style="left:953.0px;top:667px;width:60px;text-align:center;font-size:13.5px;line-height:18px;color:#d6d6da">1-17</div>
<div class="abs" style="left:1019.0px;top:525.3px;width:24px;height:122.9px;background:#f52732"></div>
<div class="abs" style="left:1001.0px;top:505.8px;width:60px;text-align:center;font-size:13px;line-height:16px;color:#e8323c">5953</div>
<div class="abs" style="left:1001.0px;top:667px;width:60px;text-align:center;font-size:13.5px;line-height:18px;color:#d6d6da">1-20</div>
<div class="abs" style="left:1067.0px;top:604.0px;width:24px;height:44.2px;background:#f52732"></div>
<div class="abs" style="left:1049.0px;top:584.5px;width:60px;text-align:center;font-size:13px;line-height:16px;color:#e8323c">2172</div>
<div class="abs" style="left:1049.0px;top:667px;width:60px;text-align:center;font-size:13.5px;line-height:18px;color:#d6d6da">1-21</div>
<div class="abs" style="left:1115.0px;top:634.9px;width:24px;height:13.3px;background:#f52732"></div>
<div class="abs" style="left:1097.0px;top:615.4px;width:60px;text-align:center;font-size:13px;line-height:16px;color:#e8323c">685</div>
<div class="abs" style="left:1097.0px;top:667px;width:60px;text-align:center;font-size:13.5px;line-height:18px;color:#d6d6da">1-22</div>
<div class="abs" style="left:1163.3px;top:598.3px;width:24px;height:49.9px;background:#f52732"></div>
<div class="abs" style="left:1145.3px;top:578.8px;width:60px;text-align:center;font-size:13px;line-height:16px;color:#e8323c">2438</div>
<div class="abs" style="left:1145.3px;top:667px;width:60px;text-align:center;font-size:13.5px;line-height:18px;color:#d6d6da">1-23</div>
<div class="hl" style="top:687.0px"></div>
<div class="row " style="left:963.0px;top:693.5px">天数</div>
<div class="row rt " style="right:121.0px;top:693.5px">净流天</div>
<div class="row rt " style="right:66.0px;top:693.5px">净流额</div>
<div class="row rt " style="right:9.5px;top:693.5px">净流率</div>
<div class="row" style="left:956px;width:40px;text-align:center;top:717.5px;color:#d0d0d4">5</div>
<div class="row rt red num" style="right:121.0px;top:717.5px">5</div>
<div class="row rt red num" style="right:66.0px;top:717.5px">14867</div>
<div class="row rt red num" style="right:9.5px;top:717.5px">8.69%</div>
<div class="row" style="left:956px;width:40px;text-align:center;top:740.3px;color:#d0d0d4">10</div>
<div class="row rt red num" style="right:121.0px;top:740.3px">10</div>
<div class="row rt red num" style="right:66.0px;top:740.3px">22491</div>
<div class="row rt red num" style="right:9.5px;top:740.3px">13.83%</div>
<div class="row" style="left:956px;width:40px;text-align:center;top:763.2px;color:#d0d0d4">20</div>
<div class="row rt red num" style="right:121.0px;top:763.2px">18</div>
<div class="row rt red num" style="right:66.0px;top:763.2px">39922</div>
<div class="row rt red num" style="right:9.5px;top:763.2px">26.42%</div>
<div class="row" style="left:956px;width:40px;text-align:center;top:786.0px;color:#d0d0d4">60</div>
<div class="row rt red num" style="right:121.0px;top:786.0px">49</div>
<div class="row rt red num" style="right:66.0px;top:786.0px">83695</div>
<div class="row rt red num" style="right:9.5px;top:786.0px">81.49%</div>
<div class="hl" style="top:808.0px"></div>
<div class="row bold" style="left:958.5px;top:810.5px">基本资料</div>
<div class="row bold" style="left:1178px;top:809.5px;font-size:11px">···</div>
<div class="row " style="left:958.5px;top:833.0px">上市日期</div>
<div class="row w num" style="left:999.0px;top:833.0px">2024-05-16</div>
<div class="row " style="left:1081.5px;top:833.0px">上市份额</div>
<div class="row rt w num" style="right:9.0px;top:833.0px">2.67亿</div>
<div class="abs" style="left:957px;top:855px;width:245.5px;height:23px;background:#1e1f25"></div>
<div class="abs" style="left:957.5px;top:855px;width:43px;height:23px;background:#23242b;border-left:1px solid #34363c;color:#e0e0e4;font-size:13px;line-height:24px;text-align:center">盘口</div>
<div class="abs" style="left:1000.5px;top:855px;width:45px;height:23px;background:#585964;color:#fff;font-size:13px;line-height:24px;text-align:center">基本</div>
<div class="abs" style="left:1080px;top:80.6px;width:126px;height:39px;border:6.8px solid #fa3a3a;border-right-width:7px"></div>
</body>
</html>
